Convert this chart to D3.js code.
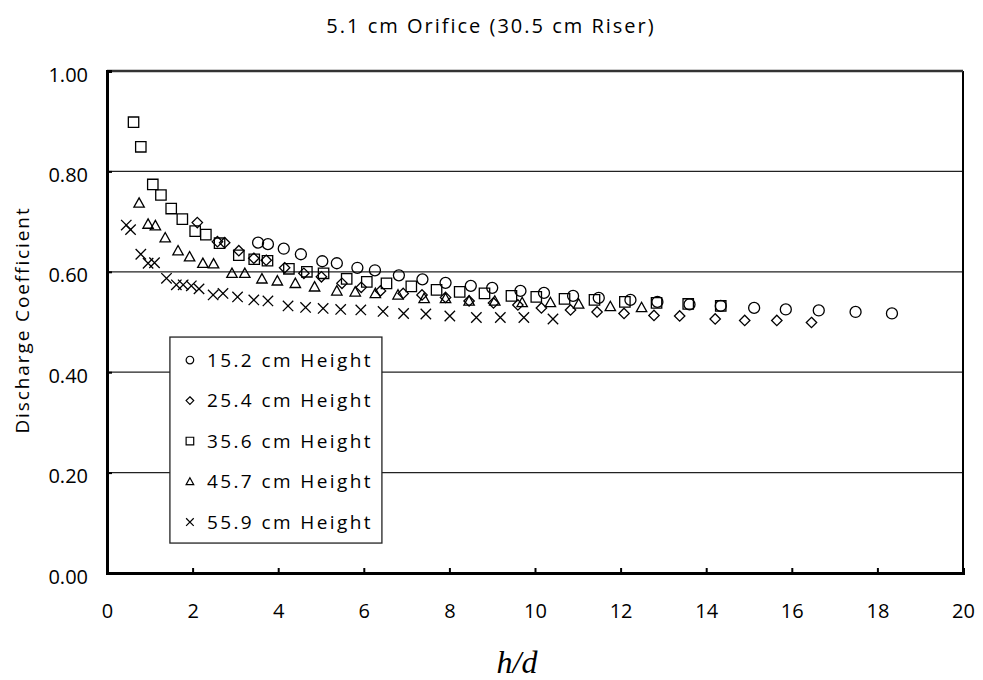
<!DOCTYPE html>
<html>
<head>
<meta charset="utf-8">
<script src="https://cdn.jsdelivr.net/npm/d3@7"></script>
<style>
  body { margin: 0; background: #fff; }
  text { font-family: "Open Sans", "DejaVu Sans", sans-serif; fill: #000; }
  .tick-text { font-size: 20px; }
  .legend-text { font-size: 19px; letter-spacing: 2.4px; }
  .title-text { font-size: 20px; letter-spacing: 2px; }
  .ylabel-text { font-size: 19px; letter-spacing: 1.9px; }
  .xlabel-text { font-family: "Liberation Serif", "DejaVu Serif", serif; font-style: italic; font-size: 32px; }
</style>
</head>
<body>
<svg id="chart" width="983" height="680"></svg>
<script>
// h/d and discharge coefficient
var series = ['15.2 cm Height', '25.4 cm Height', '35.6 cm Height', '45.7 cm Height', '55.9 cm Height'];
var shapes = ['circle', 'diamond', 'square', 'triangle', 'cross'];

var h152 = [3.53, 3.76, 4.13, 4.53, 5.03, 5.37, 5.85, 6.26, 6.82, 7.37, 7.91, 8.50, 9.00, 9.66, 10.21, 10.89, 11.49, 12.23, 12.86, 13.61, 14.34, 15.12, 15.86, 16.63, 17.49, 18.34];
var c152 = [0.658, 0.655, 0.646, 0.635, 0.621, 0.617, 0.608, 0.603, 0.593, 0.585, 0.578, 0.572, 0.568, 0.562, 0.558, 0.552, 0.548, 0.544, 0.540, 0.535, 0.532, 0.528, 0.525, 0.523, 0.520, 0.517];

var h254 = [2.11, 2.58, 2.75, 3.08, 3.43, 3.72, 4.15, 4.60, 5.01, 5.49, 5.94, 6.39, 6.92, 7.36, 7.91, 8.46, 9.03, 9.60, 10.15, 10.83, 11.45, 12.08, 12.78, 13.38, 14.21, 14.90, 15.65, 16.46];
var c254 = [0.698, 0.660, 0.658, 0.642, 0.627, 0.623, 0.608, 0.597, 0.590, 0.577, 0.569, 0.562, 0.557, 0.554, 0.549, 0.542, 0.538, 0.534, 0.528, 0.524, 0.520, 0.517, 0.513, 0.512, 0.506, 0.503, 0.503, 0.499];

var h356 = [0.62, 0.79, 1.07, 1.26, 1.50, 1.76, 2.06, 2.31, 2.63, 3.08, 3.44, 3.75, 4.25, 4.67, 5.06, 5.60, 6.07, 6.53, 7.11, 7.70, 8.24, 8.82, 9.45, 10.03, 10.69, 11.39, 12.10, 12.84, 13.58, 14.34];
var c356 = [0.898, 0.849, 0.774, 0.753, 0.726, 0.705, 0.681, 0.674, 0.657, 0.633, 0.625, 0.622, 0.606, 0.600, 0.597, 0.586, 0.580, 0.577, 0.571, 0.564, 0.560, 0.557, 0.552, 0.550, 0.546, 0.544, 0.540, 0.538, 0.536, 0.532];

var h457 = [0.75, 0.96, 1.13, 1.36, 1.66, 1.93, 2.24, 2.49, 2.92, 3.22, 3.62, 3.98, 4.40, 4.85, 5.37, 5.80, 6.27, 6.80, 7.41, 7.91, 8.46, 9.06, 9.70, 10.36, 11.02, 11.76, 12.49];
var c457 = [0.737, 0.695, 0.692, 0.668, 0.642, 0.630, 0.617, 0.616, 0.597, 0.597, 0.586, 0.582, 0.577, 0.570, 0.562, 0.560, 0.557, 0.554, 0.547, 0.547, 0.542, 0.542, 0.539, 0.539, 0.536, 0.531, 0.529];

var h559 = [0.45, 0.55, 0.79, 0.96, 1.11, 1.39, 1.62, 1.78, 1.97, 2.15, 2.48, 2.71, 3.05, 3.43, 3.76, 4.23, 4.64, 5.05, 5.46, 5.93, 6.45, 6.93, 7.45, 8.01, 8.63, 9.19, 9.74, 10.42];
var c559 = [0.693, 0.684, 0.635, 0.617, 0.618, 0.587, 0.574, 0.574, 0.572, 0.566, 0.554, 0.557, 0.550, 0.544, 0.542, 0.532, 0.529, 0.527, 0.525, 0.524, 0.521, 0.517, 0.516, 0.512, 0.509, 0.509, 0.509, 0.506];

var xTicks = [0, 2, 4, 6, 8, 10, 12, 14, 16, 18, 20];
var yTicks = [0, 0.2, 0.4, 0.6, 0.8, 1.0];

var allX = [h152, h254, h356, h457, h559];
var allY = [c152, c254, c356, c457, c559];

function ScatterChart(config) {
    var margin = config.margin,
        width = config.width - margin.left - margin.right,
        height = config.height - margin.top - margin.bottom,
        svg = d3.select('#' + config.id);

    var x = d3.scaleLinear().domain([0, 20]).range([0, width]);
    var y = d3.scaleLinear().domain([0, 1]).range([height, 0]);

    // marker path around 0,0
    var marker = function(shape, r) {
        var p = d3.path();
        if (shape === 'circle') {
            p.arc(0, 0, r, 0, 2 * Math.PI);
        } else if (shape === 'square') {
            p.rect(-r, -r, 2 * r, 2 * r);
        } else if (shape === 'diamond') {
            p.moveTo(0, -r); p.lineTo(r, 0); p.lineTo(0, r); p.lineTo(-r, 0); p.closePath();
        } else if (shape === 'triangle') {
            p.moveTo(0, -r); p.lineTo(r, r * 0.8); p.lineTo(-r, r * 0.8); p.closePath();
        } else {
            p.moveTo(-r, -r); p.lineTo(r, r); p.moveTo(r, -r); p.lineTo(-r, r);
        }
        return p.toString();
    };

    var g = svg.append('g')
        .attr('transform', 'translate(' + margin.left + ',' + margin.top + ')');

    // gridlines
    g.append('g')
        .selectAll('line')
        .data(yTicks.slice(1, -1))
        .enter()
        .append('line')
            .attr('x1', 0)
            .attr('x2', width)
            .attr('y1', d => y(d))
            .attr('y2', d => y(d))
            .attr('stroke', '#222')
            .attr('stroke-width', 1.3);

    // frame: thin right, thick top/left/bottom
    g.append('line')
        .attr('x1', width).attr('x2', width)
        .attr('y1', 0).attr('y2', height)
        .attr('stroke', '#000').attr('stroke-width', 2);
    g.append('line')
        .attr('x1', 0).attr('x2', width)
        .attr('y1', 0).attr('y2', 0)
        .attr('stroke', '#333').attr('stroke-width', 2.5);

    // axes, ticks pointing inward
    var yAxis = g.append('g')
        .call(d3.axisLeft(y).tickValues(yTicks).tickSize(-5).tickPadding(19).tickFormat(d3.format('.2f')));
    var xAxis = g.append('g')
        .attr('transform', 'translate(0,' + height + ')')
        .call(d3.axisBottom(x).tickValues(xTicks).tickSize(-5).tickPadding(31).tickFormat(d3.format('d')));

    [xAxis, yAxis].forEach(function(a) {
        a.attr('font-family', null).attr('font-size', null);
        a.select('.domain').attr('stroke', '#000').attr('stroke-width', 3);
        a.selectAll('.tick line').attr('stroke', '#000').attr('stroke-width', 2);
        a.selectAll('.tick text').attr('class', 'tick-text').attr('fill', '#000');
    });
    yAxis.selectAll('.tick text').attr('dy', '0.5em');

    // points
    series.forEach(function(name, i) {
        var pts = allX[i].map((v, j) => ({ h: v, c: allY[i][j] }));
        g.append('g')
            .selectAll('path')
            .data(pts)
            .enter()
            .append('path')
                .attr('transform', d => 'translate(' + x(d.h) + ',' + y(d.c) + ')')
                .attr('d', marker(shapes[i], shapes[i] === 'circle' ? 5.5 : 5.2))
                .attr('fill', 'none')
                .attr('stroke', '#000')
                .attr('stroke-width', 1.3);
    });

    // legend
    var legend = g.append('g')
        .attr('transform', 'translate(' + (x(1.47)) + ',' + y(0.47) + ')');

    legend.append('rect')
        .attr('x', 0)
        .attr('y', 0)
        .attr('width', 212)
        .attr('height', 206)
        .attr('fill', '#fff')
        .attr('stroke', '#222')
        .attr('stroke-width', 1.3);

    var row = legend.selectAll('.row')
        .data(series)
        .enter()
        .append('g')
            .attr('transform', (d, i) => 'translate(0,' + (23 + i * 40.5) + ')');

    row.append('path')
        .attr('transform', 'translate(20,0)')
        .attr('d', (d, i) => marker(shapes[i], 3.8))
        .attr('fill', 'none')
        .attr('stroke', '#000')
        .attr('stroke-width', 1.2);

    row.append('text')
        .attr('x', 37)
        .attr('y', 0)
        .attr('dy', '0.36em')
        .attr('class', 'legend-text')
        .text(d => d);

    // titles
    svg.append('text')
        .attr('class', 'title-text')
        .attr('text-anchor', 'middle')
        .attr('x', 491)
        .attr('y', 33)
        .text('5.1 cm Orifice (30.5 cm Riser)');

    svg.append('text')
        .attr('class', 'ylabel-text')
        .attr('text-anchor', 'middle')
        .attr('transform', 'translate(29,320) rotate(-90)')
        .text('Discharge Coefficient');

    svg.append('text')
        .attr('class', 'xlabel-text')
        .attr('text-anchor', 'middle')
        .attr('x', 517)
        .attr('y', 673)
        .text('h/d');
}

ScatterChart({
    id: 'chart',
    width: 983,
    height: 680,
    margin: { top: 71, right: 20, bottom: 107, left: 107 }
});
</script>
</body>
</html>
